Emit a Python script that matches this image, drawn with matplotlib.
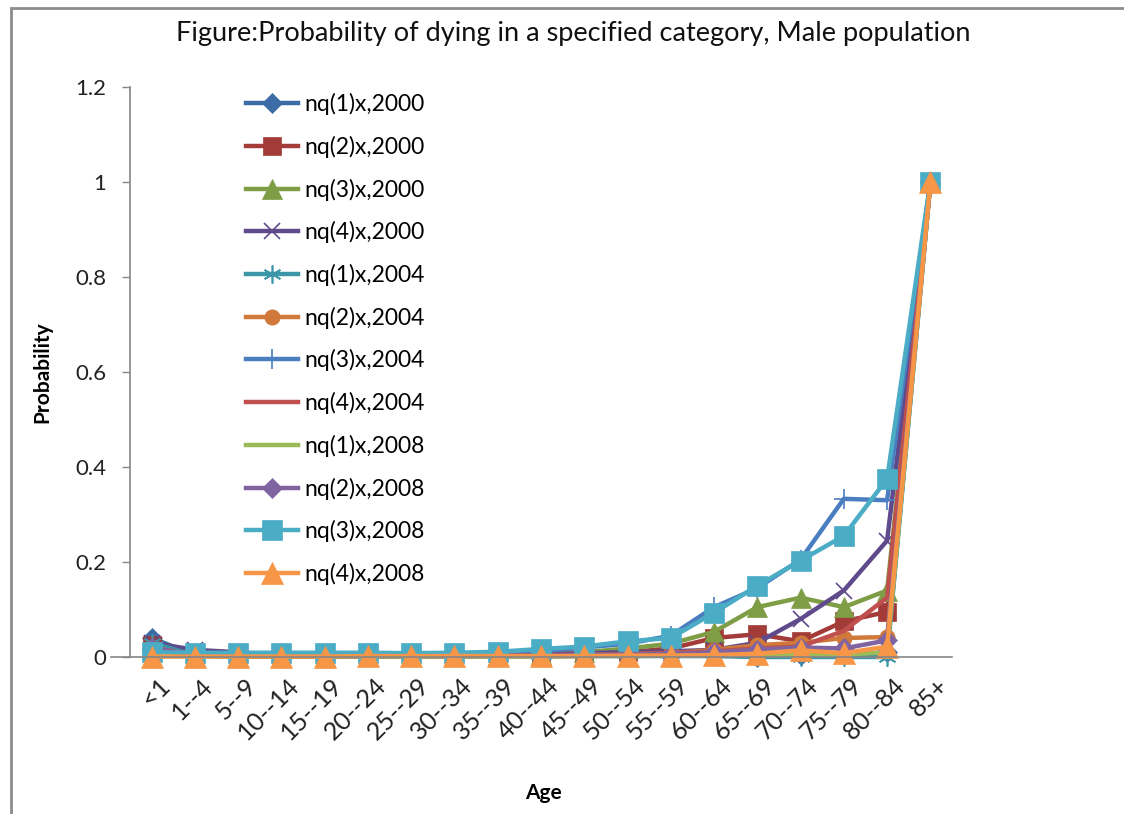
import matplotlib
matplotlib.use("Agg")
import matplotlib.pyplot as plt
from matplotlib.patches import Rectangle
from matplotlib.transforms import ScaledTranslation

plt.rcParams['font.family'] = ['Lato', 'DejaVu Sans']

ages = ['<1', '1--4', '5--9', '10--14', '15--19', '20--24', '25--29', '30--34', '35--39',
        '40--44', '45--49', '50--54', '55--59', '60--64', '65--69', '70--74', '75--79', '80--84', '85+']

nq1_2000 = [0.040, 0.004, 0.002, 0.001, 0.001, 0.002, 0.002, 0.002, 0.002, 0.002, 0.003, 0.003, 0.004, 0.004, 0.001, 0.005, 0.004, 0.010, 1.0]
nq2_2000 = [0.025, 0.003, 0.002, 0.002, 0.002, 0.002, 0.002, 0.002, 0.003, 0.004, 0.006, 0.010, 0.018, 0.040, 0.048, 0.033, 0.075, 0.095, 1.0]
nq3_2000 = [0.020, 0.003, 0.002, 0.001, 0.002, 0.002, 0.002, 0.003, 0.004, 0.006, 0.010, 0.018, 0.028, 0.053, 0.105, 0.125, 0.105, 0.140, 1.0]
nq4_2000 = [0.030, 0.015, 0.010, 0.003, 0.002, 0.002, 0.002, 0.003, 0.004, 0.006, 0.008, 0.010, 0.012, 0.015, 0.030, 0.080, 0.140, 0.245, 1.0]
nq1_2004 = [0.030, 0.003, 0.001, 0.001, 0.001, 0.001, 0.001, 0.001, 0.001, 0.001, 0.002, 0.002, 0.002, 0.002, 0.000, 0.000, 0.000, 0.000, 1.0]
nq2_2004 = [0.020, 0.003, 0.002, 0.002, 0.002, 0.002, 0.002, 0.002, 0.003, 0.003, 0.004, 0.006, 0.008, 0.015, 0.025, 0.030, 0.040, 0.042, 1.0]
nq3_2004 = [0.015, 0.005, 0.003, 0.002, 0.002, 0.003, 0.003, 0.004, 0.007, 0.012, 0.020, 0.028, 0.045, 0.105, 0.145, 0.205, 0.333, 0.330, 1.0]
nq4_2004 = [0.020, 0.004, 0.002, 0.002, 0.002, 0.002, 0.002, 0.002, 0.003, 0.004, 0.005, 0.006, 0.008, 0.012, 0.018, 0.022, 0.055, 0.125, 1.0]
nq1_2008 = [0.015, 0.002, 0.001, 0.001, 0.001, 0.001, 0.001, 0.001, 0.001, 0.001, 0.002, 0.002, 0.003, 0.004, 0.005, 0.005, 0.005, 0.010, 1.0]
nq2_2008 = [0.020, 0.003, 0.002, 0.002, 0.002, 0.002, 0.002, 0.002, 0.003, 0.003, 0.004, 0.005, 0.006, 0.010, 0.015, 0.020, 0.018, 0.035, 1.0]
nq3_2008 = [0.010, 0.009, 0.009, 0.009, 0.009, 0.009, 0.008, 0.009, 0.011, 0.017, 0.022, 0.033, 0.040, 0.093, 0.150, 0.203, 0.255, 0.375, 1.0]
nq4_2008 = [0.001, 0.001, 0.001, 0.001, 0.001, 0.002, 0.002, 0.002, 0.002, 0.002, 0.002, 0.003, 0.003, 0.004, 0.007, 0.014, 0.008, 0.022, 1.0]

labels = ['nq(1)x,2000', 'nq(2)x,2000', 'nq(3)x,2000', 'nq(4)x,2000',
          'nq(1)x,2004', 'nq(2)x,2004', 'nq(3)x,2004', 'nq(4)x,2004',
          'nq(1)x,2008', 'nq(2)x,2008', 'nq(3)x,2008', 'nq(4)x,2008']
series = [nq1_2000, nq2_2000, nq3_2000, nq4_2000, nq1_2004, nq2_2004,
          nq3_2004, nq4_2004, nq1_2008, nq2_2008, nq3_2008, nq4_2008]
colors = ['#3D6BA5', '#A33B39', '#7E9D44', '#5F4A8B', '#3B96AA', '#D0793A',
          '#4A7EC0', '#C0504D', '#9BBB59', '#8064A2', '#4BACC6', '#F79646']
markers = ['D', 's', '^', 'x', (6, 2, 0), 'o', '+', None, None, 'D', 's', '^']
msizes = [10, 13, 15, 12, 13, 11, 14, 0, 0, 10, 14, 16]

fig = plt.figure(figsize=(11.24, 8.14), dpi=100)
ax = fig.add_axes([130 / 1124, 1 - 657 / 814, (952 - 130) / 1124, (657 - 87) / 814])

x = list(range(len(ages)))
for y, lab, c, m, ms in zip(series, labels, colors, markers, msizes):
    thin = m in ('x', '+', (6, 2, 0))
    ax.plot(x, y, color=c, lw=3.2, label=lab, marker=m, markersize=ms,
            markerfacecolor=c, markeredgecolor=c, clip_on=False,
            markeredgewidth=1.2 if thin else 0.5, solid_joinstyle='round')

ax.set_xlim(-0.5, len(ages) - 0.5)
ax.set_ylim(0, 1.2)
ax.set_yticks([0, 0.2, 0.4, 0.6, 0.8, 1.0, 1.2])
ax.set_yticklabels(['0', '0.2', '0.4', '0.6', '0.8', '1', '1.2'])
ax.set_xticks(x)
ax.set_xticklabels(ages, rotation=45, ha='right', va='top', rotation_mode='anchor')
ax.tick_params(axis='x', length=0, pad=12, labelsize=18, colors='#222222')
ax.tick_params(axis='y', length=6, width=1, color='#868686', pad=11, labelsize=16, labelcolor='#222222')
shift = ScaledTranslation(6 / 100, 0, fig.dpi_scale_trans)
for lbl in ax.get_xticklabels():
    lbl.set_transform(lbl.get_transform() + shift)
for s in ['top', 'right']:
    ax.spines[s].set_visible(False)
for s in ['left', 'bottom']:
    ax.spines[s].set_color('#868686')
    ax.spines[s].set_linewidth(1.2)
ax.spines['bottom'].set_bounds(-0.95, len(ages) - 0.5)
ax.spines['bottom'].set_clip_on(False)
ax.set_axisbelow(True)

ax.set_ylabel('Probability', fontsize=15, fontweight='bold')
ax.yaxis.set_label_coords(-78 / 822, 0.5)
fig.text(543 / 1124, 1 - 793 / 814, 'Age', fontsize=15, fontweight='bold', ha='center', va='center')
fig.text(573 / 1124, 1 - 33 / 814,
         'Figure:Probability of dying in a specified category, Male population',
         fontsize=19.5, ha='center', va='center', color='#111111')

fig.legend(loc='upper left', bbox_to_anchor=(246 / 1124, 1 - 93 / 814), frameon=False,
           fontsize=16.5, handlelength=2.25, handletextpad=0.3, labelspacing=0.9,
           borderaxespad=0, borderpad=0)

fig.patches.append(Rectangle((11 / 1124, -0.1), 1.2, 1 - 8 / 814 + 0.1, transform=fig.transFigure,
                             fill=False, edgecolor='#8c8c8c', lw=2))

fig.savefig('out.png', dpi=100)
